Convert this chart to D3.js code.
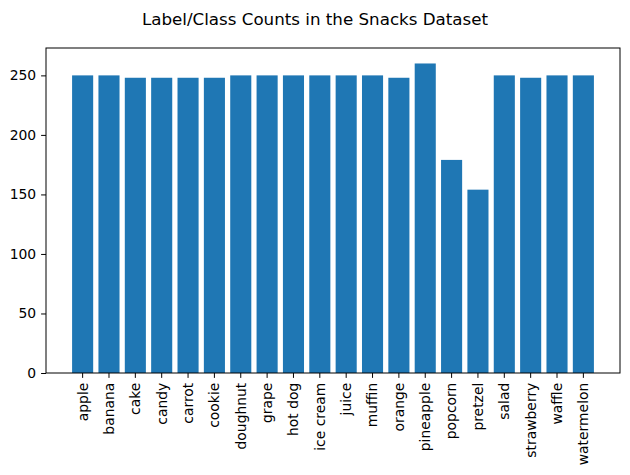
<!DOCTYPE html>
<html>
<head>
<meta charset="utf-8">
<script src="https://cdn.jsdelivr.net/npm/d3@7"></script>
<style>
  body { margin: 0; background: #fff; }
  text { font-family: "DejaVu Sans", sans-serif; }
</style>
</head>
<body>
<script>
// Class counts
const labels = ['apple', 'banana', 'cake', 'candy', 'carrot', 'cookie', 'doughnut', 'grape',
    'hot dog', 'ice cream', 'juice', 'muffin', 'orange', 'pineapple', 'popcorn', 'pretzel',
    'salad', 'strawberry', 'waffle', 'watermelon'];
const counts = [250, 250, 248, 248, 248, 248, 250, 250, 250, 250, 250, 250, 248, 260, 179, 154,
    250, 248, 250, 250];
const yTicks = [0, 50, 100, 150, 200, 250];

const svgWidth = 630;
const svgHeight = 475;
const margin = { top: 48, right: 10, bottom: 102, left: 46 };

const svg = d3.select('body')
    .append('svg')
    .attr('width', svgWidth)
    .attr('height', svgHeight);

const xScale = d3.scaleBand()
    .domain(labels)
    .range([margin.left, svgWidth - margin.right])
    .paddingInner(0.2)
    .paddingOuter(0.99);

const yScale = d3.scaleLinear()
    .domain([0, d3.max(counts) * 1.05])
    .range([svgHeight - margin.bottom, margin.top]);

// Bars
svg.selectAll('.bar')
    .data(labels)
    .enter()
    .append('rect')
    .attr('x', d => xScale(d))
    .attr('y', (d, i) => yScale(counts[i]))
    .attr('width', xScale.bandwidth())
    .attr('height', (d, i) => yScale(0) - yScale(counts[i]))
    .attr('fill', '#1f77b4');

// X-axis
const xAxis = svg.append('g')
    .attr('transform', `translate(0,${svgHeight - margin.bottom})`)
    .call(d3.axisBottom(xScale).tickSize(4.9).tickSizeOuter(0));
xAxis.select('.domain').remove();
xAxis.selectAll('line').attr('stroke', '#000').attr('stroke-width', 1);
xAxis.selectAll('text')
    .attr('font-size', '13.9px')
    .attr('fill', '#000')
    .attr('transform', 'rotate(-90)')
    .attr('x', -9.7)
    .attr('y', 0)
    .attr('dy', '0.35em')
    .style('text-anchor', 'end');

// Y-axis
const yAxis = svg.append('g')
    .attr('transform', `translate(${margin.left},0)`)
    .call(d3.axisLeft(yScale).tickValues(yTicks).tickSize(4.9).tickPadding(4.9));
yAxis.select('.domain').remove();
yAxis.selectAll('line').attr('stroke', '#000').attr('stroke-width', 1);
yAxis.selectAll('text')
    .attr('font-size', '13.9px')
    .attr('fill', '#000');

// Frame
svg.append('rect')
    .attr('x', margin.left)
    .attr('y', margin.top)
    .attr('width', svgWidth - margin.left - margin.right)
    .attr('height', svgHeight - margin.top - margin.bottom)
    .attr('fill', 'none')
    .attr('stroke', '#000')
    .attr('stroke-width', 1);

// Title
svg.append('text')
    .attr('x', svgWidth / 2)
    .attr('y', 25)
    .attr('font-size', '16.7px')
    .attr('fill', '#000')
    .style('text-anchor', 'middle')
    .text('Label/Class Counts in the Snacks Dataset');
</script>
</body>
</html>
